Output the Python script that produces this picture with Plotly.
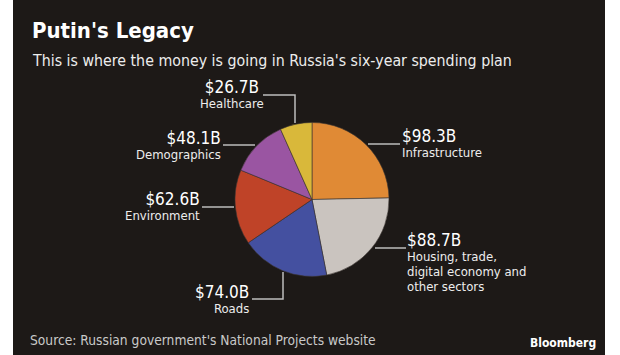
import plotly.graph_objects as go

W, H = 620, 355

categories = ["Infrastructure", "Housing, trade,<br>digital economy and<br>other sectors",
              "Roads", "Environment", "Demographics", "Healthcare"]
values = [98.3, 88.7, 74.0, 62.6, 48.1, 26.7]
colors = ["#E08A35", "#CAC4BF", "#4450A0", "#BF4328", "#9A55A2", "#D9B83A"]

BG = "#1D1917"
FONT = "DejaVu Sans Condensed, DejaVu Sans, sans-serif"
LINE = "#BDBDBD"

def px(x):
    return x / W

def py(y):
    return 1 - y / H

# pie placement (pixels)
cx, cy, r = 312, 199.5, 77

fig = go.Figure(go.Pie(
    labels=categories, values=values, sort=False, direction="clockwise",
    rotation=0, marker=dict(colors=colors, line=dict(color="#3a3430", width=0.6)),
    textinfo="none", hoverinfo="label+value", showlegend=False,
    domain=dict(x=[px(cx - r), px(cx + r)], y=[py(cy + r), py(cy - r)]),
))

shapes = [dict(type="rect", xref="paper", yref="paper", x0=px(13), x1=px(605),
               y0=0, y1=1, fillcolor=BG, line=dict(width=0), layer="below")]

leaders = [
    [(263, 95), (295, 95), (295, 123)],
    [(223, 145), (255, 145)],
    [(202, 207), (234, 207)],
    [(252, 299), (283, 299), (283, 272)],
    [(368, 144), (400, 144)],
    [(375, 248), (406, 248)],
]
for pts in leaders:
    path = "M " + " L ".join(f"{px(x)},{py(y)}" for x, y in pts)
    shapes.append(dict(type="path", xref="paper", yref="paper", path=path,
                       line=dict(color=LINE, width=1.5)))

ann = []

def text(x, y, s, size, anchor="left", color="white", bold=False, yanchor="middle"):
    if bold:
        s = f"<b>{s}</b>"
    ann.append(dict(x=px(x), y=py(y), xref="paper", yref="paper", text=s,
                    showarrow=False, xanchor=anchor, yanchor=yanchor, align=anchor,
                    borderpad=0,
                    font=dict(family=FONT, size=size, color=color)))

text(31, 31, "Putin's Legacy", 22, bold=True)
text(31, 60, "This is where the money is going in Russia's six-year spending plan", 15.8, color="#EDEDED")

amounts = [f"${v:.1f}B" for v in values]
# label layout: (x, centre y of block, anchor)
lab = [
    (401, 143, "left"),
    (406, 262, "left"),
    (250, 298.5, "right"),
    (201, 205.5, "right"),
    (222, 144.5, "right"),
    (232, 94.5, "center"),
]
for (x, yc, anc), a, c in zip(lab, amounts, categories):
    lines = c.split("<br>")
    body = "<br>".join(f"<span style='font-size:13px;color:#EDEDED'>{ln}</span>" for ln in lines)
    s = f"<span style='font-size:17px'>{a}</span><br>{body}"
    text(x, yc, s, 11.5, anchor=anc)

text(29, 340, "Source: Russian government's National Projects website", 13.7, color="#C9C9C9")
text(597, 343, "Bloomberg", 12, anchor="right", bold=True)

fig.update_layout(width=W, height=H, margin=dict(l=0, r=0, t=0, b=0),
                  paper_bgcolor="white", plot_bgcolor="white",
                  shapes=shapes, annotations=ann)

fig.write_html("out.html", config={"displayModeBar": False},
               post_script="document.body.style.margin='0';document.body.style.overflow='hidden';")
